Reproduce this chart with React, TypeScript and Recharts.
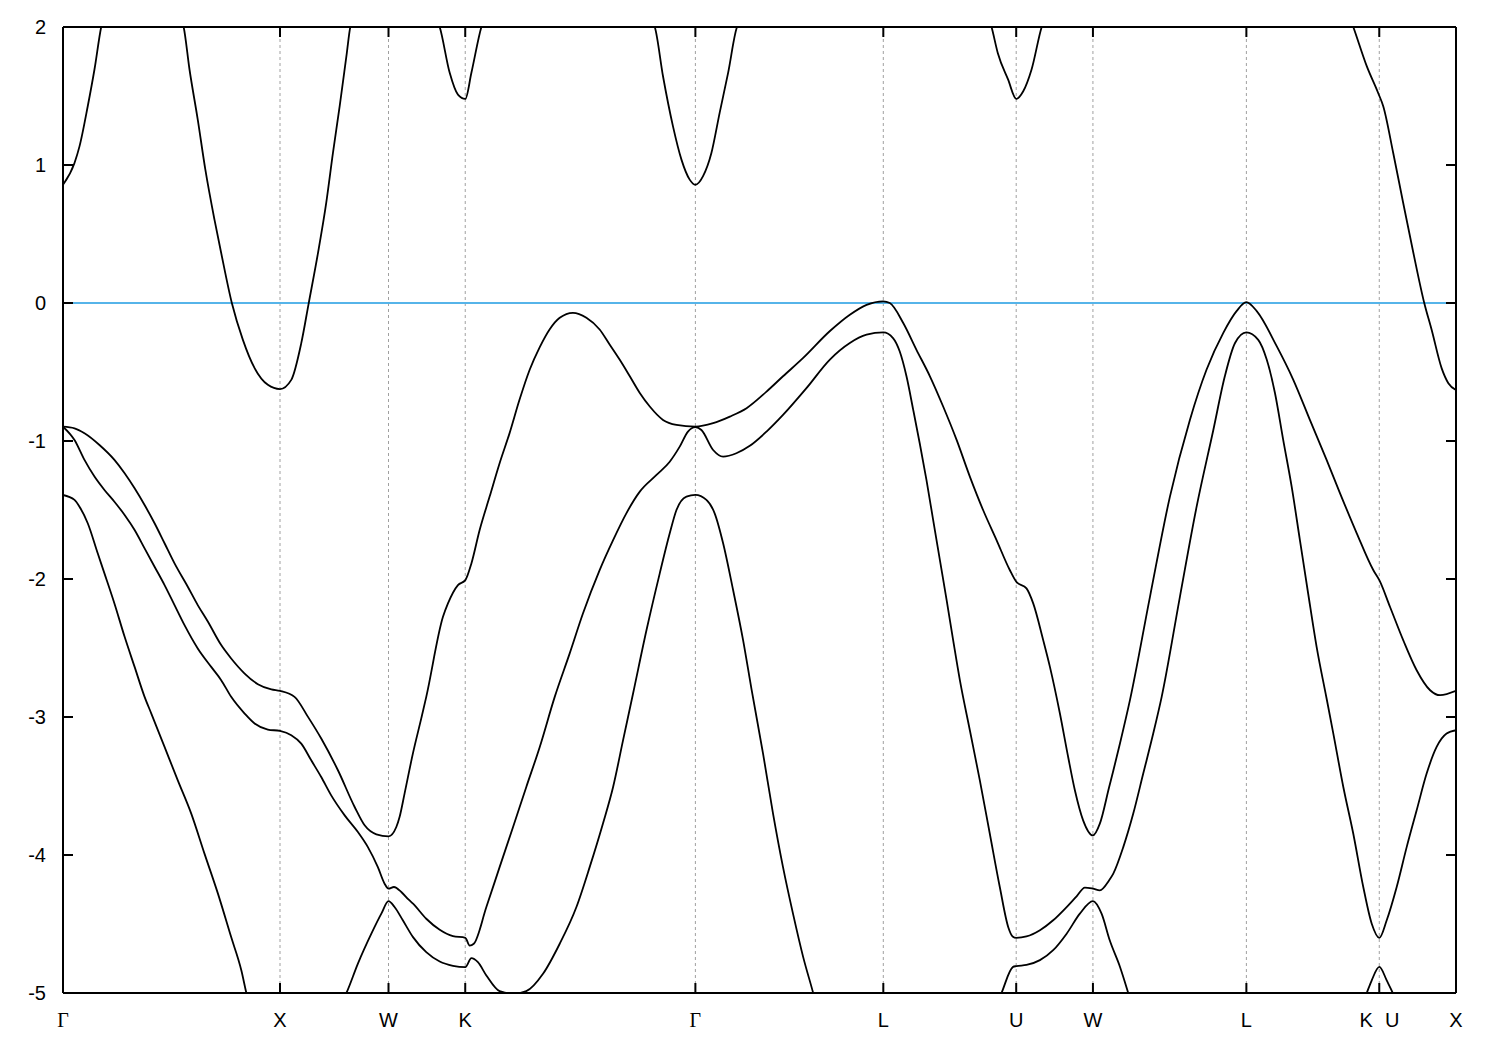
import { CartesianGrid, Line, LineChart, ReferenceLine, XAxis, YAxis } from 'recharts';

// k-path (units of 2π/a): Γ-X-W-K-Γ-L-U-W-L-K|U-X
const kTicks = [0, 1, 1.5, 1.8536, 2.9142, 3.7802, 4.3926, 4.7462, 5.4533, 6.0657, 6.4193];
const kLabels = ['Γ', 'X', 'W', 'K', 'Γ', 'L', 'U', 'W', 'L', 'K U', 'X'];
const energyTicks = [2, 1, 0, -1, -2, -3, -4, -5];
const fermiLevel = 0;

// [k, E (eV)]; values outside -5..2 are only there so the curve leaves the frame
const conduction1: [number, number][] = [
  [0, 0.857], [0.053, 1.015], [0.076, 1.135], [0.114, 1.426], [0.145, 1.692], [0.176, 2.0],
  [0.36, 2.7], [0.556, 2.0], [0.583, 1.692], [0.621, 1.329], [0.656, 0.966], [0.698, 0.604],
  [0.729, 0.362], [0.778, 0.0], [0.829, -0.267], [0.883, -0.472], [0.944, -0.593], [1.0, -0.624],
  [1.052, -0.557], [1.098, -0.291], [1.132, -0.004], [1.175, 0.362], [1.213, 0.725], [1.244, 1.087],
  [1.275, 1.426], [1.308, 1.813], [1.324, 2.0], [1.5, 2.6], [1.736, 2.0], [1.782, 1.668],
  [1.82, 1.51], [1.854, 1.479], [1.882, 1.668], [1.928, 2.0], [2.3, 3.0], [2.727, 2.0],
  [2.765, 1.643], [2.811, 1.28], [2.85, 1.039], [2.888, 0.894], [2.914, 0.857], [2.949, 0.918],
  [2.988, 1.087], [3.026, 1.378], [3.065, 1.668], [3.106, 2.0], [3.78, 3.4], [4.279, 2.0],
  [4.308, 1.81], [4.355, 1.62], [4.393, 1.479], [4.425, 1.534], [4.463, 1.69], [4.51, 2.0],
  [4.746, 2.6], [5.453, 3.4], [5.946, 2.0], [6.008, 1.716], [6.061, 1.52], [6.084, 1.426],
  [6.13, 1.087], [6.176, 0.725], [6.223, 0.362], [6.273, 0.0], [6.307, -0.194], [6.353, -0.472],
  [6.384, -0.581], [6.419, -0.63],
];

const valenceTop: [number, number][] = [
  [0, -0.896], [0.053, -0.908], [0.099, -0.944], [0.168, -1.029], [0.237, -1.137], [0.284, -1.234],
  [0.33, -1.343], [0.376, -1.464], [0.422, -1.596], [0.468, -1.741], [0.514, -1.887], [0.575, -2.056],
  [0.621, -2.189], [0.668, -2.31], [0.729, -2.479], [0.775, -2.576], [0.837, -2.685], [0.898, -2.762],
  [0.96, -2.8], [1.0, -2.811], [1.067, -2.854], [1.129, -2.999], [1.19, -3.156], [1.267, -3.386],
  [1.344, -3.652], [1.39, -3.785], [1.444, -3.85], [1.5, -3.865], [1.536, -3.797], [1.551, -3.725],
  [1.574, -3.555], [1.613, -3.26], [1.651, -3.01], [1.674, -2.854], [1.751, -2.274], [1.774, -2.177],
  [1.82, -2.044], [1.854, -2.008], [1.882, -1.887], [1.92, -1.645], [1.966, -1.403], [2.012, -1.161],
  [2.058, -0.943], [2.104, -0.7], [2.151, -0.482], [2.197, -0.32], [2.243, -0.19], [2.289, -0.107],
  [2.35, -0.071], [2.412, -0.107], [2.473, -0.192], [2.519, -0.301], [2.565, -0.41], [2.612, -0.531],
  [2.658, -0.652], [2.704, -0.75], [2.765, -0.847], [2.827, -0.883], [2.914, -0.896], [2.996, -0.871],
  [3.073, -0.823], [3.15, -0.762], [3.242, -0.642], [3.318, -0.531], [3.411, -0.398], [3.533, -0.205],
  [3.626, -0.085], [3.703, -0.013], [3.78, 0.012], [3.81, 0.0], [3.872, -0.145], [3.933, -0.339],
  [3.995, -0.531], [4.056, -0.75], [4.118, -0.992], [4.179, -1.258], [4.24, -1.5], [4.302, -1.718],
  [4.363, -1.935], [4.393, -2.02], [4.44, -2.068], [4.471, -2.177], [4.517, -2.443], [4.548, -2.637],
  [4.594, -2.975], [4.632, -3.29], [4.663, -3.531], [4.701, -3.749], [4.746, -3.858], [4.778, -3.773],
  [4.821, -3.507], [4.84, -3.39], [4.871, -3.19], [4.917, -2.876], [5.009, -2.129], [5.101, -1.403],
  [5.193, -0.847], [5.27, -0.482], [5.347, -0.216], [5.408, -0.059], [5.453, 0.006], [5.501, -0.059],
  [5.593, -0.313], [5.669, -0.555], [5.746, -0.847], [5.823, -1.137], [5.885, -1.379], [5.962, -1.669],
  [6.038, -1.935], [6.066, -2.008], [6.115, -2.201], [6.176, -2.443], [6.238, -2.661], [6.3, -2.806],
  [6.346, -2.842], [6.419, -2.811],
];

const valenceSecond: [number, number][] = [
  [0, -0.896], [0.053, -0.993], [0.099, -1.137], [0.145, -1.258], [0.191, -1.355], [0.237, -1.44],
  [0.284, -1.536], [0.33, -1.645], [0.376, -1.778], [0.422, -1.911], [0.468, -2.044], [0.514, -2.189],
  [0.56, -2.334], [0.621, -2.503], [0.683, -2.637], [0.729, -2.733], [0.775, -2.854], [0.837, -2.975],
  [0.883, -3.047], [0.944, -3.091], [1.0, -3.101], [1.052, -3.132], [1.098, -3.193], [1.144, -3.314],
  [1.19, -3.435], [1.236, -3.568], [1.298, -3.713], [1.359, -3.834], [1.405, -3.943], [1.451, -4.088],
  [1.482, -4.208], [1.5, -4.244], [1.525, -4.232], [1.559, -4.268], [1.593, -4.324], [1.613, -4.353],
  [1.674, -4.462], [1.736, -4.542], [1.797, -4.588], [1.854, -4.6], [1.874, -4.656], [1.893, -4.643],
  [1.951, -4.377], [2.012, -4.088], [2.074, -3.797], [2.135, -3.507], [2.197, -3.217], [2.266, -2.854],
  [2.335, -2.539], [2.396, -2.25], [2.473, -1.935], [2.535, -1.718], [2.596, -1.524], [2.658, -1.367],
  [2.735, -1.246], [2.796, -1.15], [2.842, -1.041], [2.88, -0.932], [2.914, -0.9], [2.942, -0.92],
  [2.996, -1.065], [3.042, -1.113], [3.103, -1.089], [3.165, -1.035], [3.242, -0.932], [3.318, -0.811],
  [3.426, -0.617], [3.534, -0.41], [3.626, -0.29], [3.703, -0.23], [3.78, -0.213], [3.825, -0.254],
  [3.856, -0.352], [3.887, -0.531], [3.918, -0.774], [3.948, -1.016], [3.979, -1.282], [4.01, -1.573],
  [4.041, -1.863], [4.072, -2.153], [4.102, -2.443], [4.133, -2.733], [4.179, -3.096], [4.225, -3.459],
  [4.271, -3.846], [4.317, -4.232], [4.356, -4.523], [4.376, -4.59], [4.393, -4.6], [4.44, -4.59],
  [4.502, -4.545], [4.563, -4.473], [4.625, -4.377], [4.671, -4.299], [4.709, -4.236], [4.746, -4.244],
  [4.778, -4.256], [4.821, -4.183], [4.84, -4.135], [4.886, -3.943], [4.932, -3.7], [4.978, -3.41],
  [5.024, -3.12], [5.063, -2.854], [5.147, -2.129], [5.224, -1.476], [5.301, -0.92], [5.354, -0.531],
  [5.401, -0.29], [5.453, -0.213], [5.508, -0.267], [5.547, -0.41], [5.585, -0.652], [5.623, -0.992],
  [5.662, -1.331], [5.7, -1.718], [5.738, -2.105], [5.777, -2.492], [5.823, -2.866], [5.854, -3.12],
  [5.9, -3.507], [5.946, -3.846], [5.992, -4.232], [6.031, -4.498], [6.066, -4.6], [6.1, -4.473],
  [6.146, -4.232], [6.192, -3.943], [6.238, -3.676], [6.284, -3.41], [6.33, -3.217], [6.376, -3.12],
  [6.419, -3.096],
];

const valenceThird: [number, number][] = [
  [0, -1.391], [0.053, -1.427], [0.076, -1.476], [0.114, -1.596], [0.16, -1.814], [0.191, -1.959],
  [0.237, -2.177], [0.284, -2.419], [0.33, -2.637], [0.376, -2.854], [0.407, -2.975], [0.468, -3.217],
  [0.529, -3.459], [0.591, -3.7], [0.652, -3.99], [0.714, -4.28], [0.775, -4.595], [0.822, -4.837],
  [0.845, -5.0], [0.9, -5.3], [1.0, -5.5], [1.12, -5.4], [1.22, -5.2], [1.306, -5.0], [1.359, -4.787],
  [1.421, -4.57], [1.467, -4.425], [1.5, -4.334], [1.528, -4.377], [1.566, -4.473], [1.613, -4.595],
  [1.674, -4.704], [1.736, -4.772], [1.797, -4.803], [1.854, -4.813], [1.882, -4.748], [1.912, -4.777],
  [1.951, -4.873], [2.012, -4.987], [2.074, -5.006], [2.135, -4.987], [2.212, -4.861], [2.289, -4.643],
  [2.366, -4.377], [2.427, -4.088], [2.488, -3.773], [2.535, -3.507], [2.581, -3.168], [2.627, -2.83],
  [2.689, -2.37], [2.75, -1.959], [2.796, -1.669], [2.827, -1.5], [2.873, -1.403], [2.914, -1.391],
  [2.965, -1.427], [3.003, -1.524], [3.042, -1.741], [3.088, -2.08], [3.134, -2.443], [3.173, -2.8],
  [3.226, -3.265], [3.272, -3.7], [3.318, -4.088], [3.364, -4.425], [3.411, -4.74], [3.457, -5.0],
  [3.55, -5.6], [3.78, -6.1], [4.05, -5.8], [4.25, -5.3], [4.325, -5.0], [4.378, -4.811],
  [4.393, -4.805], [4.44, -4.797], [4.502, -4.762], [4.563, -4.69], [4.625, -4.57], [4.686, -4.425],
  [4.746, -4.334], [4.786, -4.425], [4.824, -4.62], [4.871, -4.811], [4.909, -5.0], [5.0, -5.5],
  [5.453, -6.3], [5.85, -5.6], [6.008, -5.0], [6.031, -4.908], [6.066, -4.811], [6.1, -4.908],
  [6.128, -5.0], [6.25, -5.4], [6.419, -5.5],
];

const bands = [conduction1, valenceTop, valenceSecond, valenceThird];

const FONT = '"Liberation Sans", Arial, sans-serif';
const SERIF = '"Liberation Serif", "Times New Roman", serif';

const BottomTick = (props: any) => {
  const { x, y, payload } = props;
  const label = kLabels[kTicks.indexOf(payload.value)];
  const axisY = y - 27;
  const txt = (s: string, tx: number) => (
    <text
      x={tx}
      y={y}
      textAnchor="middle"
      dominantBaseline="central"
      fontSize={20}
      fontFamily={s === 'Γ' ? SERIF : FONT}
      fill="#000"
    >
      {s}
    </text>
  );
  return (
    <g>
      <line x1={x} x2={x} y1={axisY} y2={axisY - 10} stroke="#000" strokeWidth={2} />
      {label === 'K U' ? (
        <>
          {txt('K', x - 13)}
          {txt('U', x + 13)}
        </>
      ) : (
        txt(label, x)
      )}
    </g>
  );
};

const TopTick = (props: any) => {
  const { x, y } = props;
  return <line x1={x} x2={x} y1={y} y2={y + 10} stroke="#000" strokeWidth={2} />;
};

const LeftTick = (props: any) => {
  const { x, y, payload } = props;
  return (
    <g>
      <line x1={x + 17} x2={x + 27} y1={y} y2={y} stroke="#000" strokeWidth={2} />
      <text x={x} y={y} textAnchor="end" dominantBaseline="central" fontSize={20} fontFamily={FONT} fill="#000">
        {String(payload.value)}
      </text>
    </g>
  );
};

const RightTick = (props: any) => {
  const { x, y } = props;
  return <line x1={x - 10} x2={x} y1={y} y2={y} stroke="#000" strokeWidth={2} />;
};

export default function App() {
  const frame = { stroke: '#000', strokeWidth: 2 };
  return (
    <div style={{ position: 'absolute', left: 0, top: 0, background: '#fff' }}>
      <LineChart width={1500} height={1050} margin={{ top: 0, right: 0, bottom: 0, left: 0 }}>
        <CartesianGrid horizontal={false} stroke="#a0a0a0" strokeDasharray="3 3" strokeWidth={1} />
        <XAxis
          dataKey="k"
          type="number"
          domain={[0, 6.4193]}
          allowDataOverflow
          ticks={kTicks}
          interval={0}
          height={57}
          tickSize={0}
          tickMargin={27}
          axisLine={frame}
          tick={<BottomTick />}
        />
        <XAxis
          xAxisId="top"
          orientation="top"
          dataKey="k"
          type="number"
          domain={[0, 6.4193]}
          allowDataOverflow
          ticks={kTicks}
          interval={0}
          height={27}
          tickSize={0}
          tickMargin={0}
          axisLine={frame}
          tick={<TopTick />}
        />
        <YAxis
          type="number"
          domain={[-5, 2]}
          allowDataOverflow
          ticks={energyTicks}
          interval={0}
          width={63}
          tickSize={0}
          tickMargin={17}
          axisLine={frame}
          tick={<LeftTick />}
        />
        <YAxis
          yAxisId="right"
          orientation="right"
          type="number"
          domain={[-5, 2]}
          allowDataOverflow
          ticks={energyTicks}
          interval={0}
          width={44}
          tickSize={0}
          tickMargin={0}
          axisLine={frame}
          tick={<RightTick />}
        />
        <ReferenceLine y={fermiLevel} stroke="#56b4e9" strokeWidth={2} />
        {bands.map((band, i) => (
          <Line
            key={i}
            data={band.map(([k, e]) => ({ k, e }))}
            dataKey="e"
            type="monotone"
            stroke="#000"
            strokeWidth={1.8}
            dot={false}
            activeDot={false}
            isAnimationActive={false}
          />
        ))}
      </LineChart>
    </div>
  );
}
